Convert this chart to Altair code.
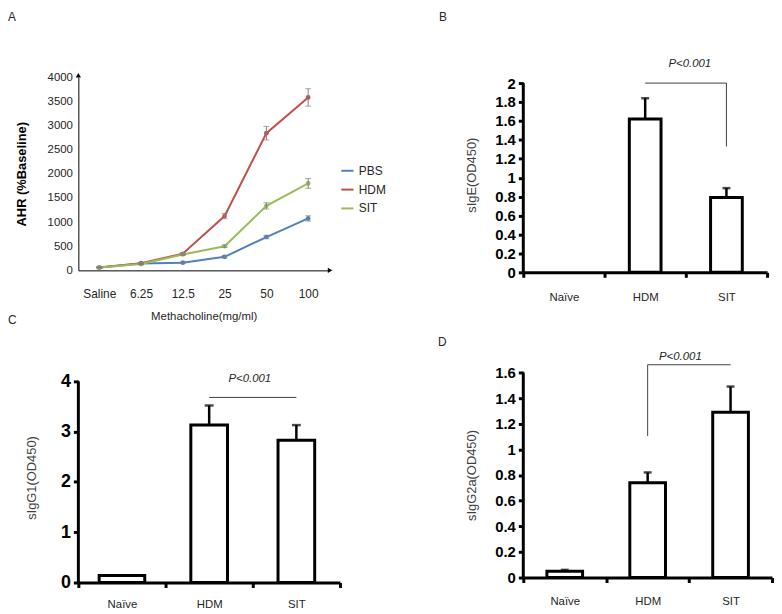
import altair as alt
import pandas as pd

# ---------------- data ----------------
doses = ["Saline", "6.25", "12.5", "25", "50", "100"]
groups_a = ["PBS", "HDM", "SIT"]
colors_a = ["#4f81bd", "#c0504d", "#9bbb59"]
pbs_mean = [60, 140, 160, 280, 690, 1075]
pbs_err = [10, 15, 15, 25, 35, 55]
hdm_mean = [60, 150, 345, 1125, 2840, 3580]
hdm_err = [10, 15, 20, 55, 140, 180]
sit_mean = [60, 130, 330, 500, 1335, 1800]
sit_err = [10, 15, 20, 25, 65, 100]

groups = ["Naïve", "HDM", "SIT"]
ige_mean = [0.0, 1.62, 0.79]
ige_err = [0.0, 0.22, 0.10]
igg1_mean = [0.14, 3.13, 2.83]
igg1_err = [0.0, 0.39, 0.30]
igg2a_mean = [0.05, 0.74, 1.29]
igg2a_err = [0.01, 0.08, 0.20]

p_label = "P<0.001"
bracket_b_x = ["HDM", "SIT", "SIT"]
bracket_b_y = [2.0, 2.0, 1.33]
bracket_c_x = ["HDM", "SIT"]
bracket_c_y = [3.68, 3.68]
bracket_d_x = ["HDM", "HDM", "SIT"]
bracket_d_y = [1.105, 1.66, 1.66]

FONT = "Liberation Sans, Arial, sans-serif"
NARROW = "Liberation Sans Narrow, Arial Narrow, Liberation Sans, sans-serif"
TXT = "#262626"


def letter(ch, x, y):
    return alt.Chart(pd.DataFrame({"t": [ch]})).mark_text(
        align="left", baseline="top", fontSize=12, font=FONT, color=TXT
    ).encode(x=alt.value(x), y=alt.value(y), text="t:N")


# ---------------- panel A ----------------
rows = []
for g, m, e in zip(groups_a, [pbs_mean, hdm_mean, sit_mean], [pbs_err, hdm_err, sit_err]):
    for i, (d, mv, ev) in enumerate(zip(doses, m, e)):
        rows.append({"dose": d, "group": g, "mean": mv, "lo": mv - ev, "hi": mv + ev, "i": i})
df_a = pd.DataFrame(rows)

W_A, H_A = 253, 195
xA = alt.X("dose:N", sort=doses, scale=alt.Scale(type="point", padding=0.5),
           axis=alt.Axis(title="Methacholine(mg/ml)", labelAngle=0, ticks=False, domainColor="black",
                         labelPadding=18, titlePadding=12, labelFontSize=12, titleFontSize=11.5,
                         titleFontWeight="normal", labelColor=TXT, titleColor=TXT,
                         labelFont=FONT, titleFont=FONT))


def yA(field):
    return alt.Y(field, scale=alt.Scale(domain=[0, 4000]),
                 axis=alt.Axis(title="AHR (%Baseline)", values=list(range(0, 4001, 500)), format="d",
                               grid=False, ticks=False, domainColor="black", labelPadding=6,
                               titlePadding=19, titleFontWeight="bold", titleFontSize=13,
                               labelFontSize=11.5, labelColor=TXT, titleColor="black",
                               labelFont=FONT, titleFont=FONT))


colA = alt.Color("group:N", scale=alt.Scale(domain=groups_a, range=colors_a),
                 legend=alt.Legend(title=None, orient="none", legendX=264, legendY=87,
                                   symbolType="stroke", symbolStrokeWidth=2, symbolSize=150,
                                   labelFontSize=12, labelFont=FONT, labelColor=TXT, rowPadding=5))

base_a = alt.Chart(df_a)
lines = base_a.mark_line(strokeWidth=2).encode(x=xA, y=yA("mean:Q"), color=colA, order="i:Q")
pts = base_a.mark_point(filled=True, size=22, opacity=1).encode(x=xA, y=yA("mean:Q"), color=colA)
err_r = base_a.mark_rule(color="#7f7f7f", strokeWidth=1).encode(x=xA, y=yA("lo:Q"), y2="hi:Q")
err_t1 = base_a.mark_tick(color="#7f7f7f", size=6, thickness=1).encode(x=xA, y=yA("lo:Q"))
err_t2 = base_a.mark_tick(color="#7f7f7f", size=6, thickness=1).encode(x=xA, y=yA("hi:Q"))
one = pd.DataFrame({"k": [0]})
arrow_up = alt.Chart(one).mark_point(shape="triangle-up", filled=True, size=28, color="black", opacity=1).encode(
    x=alt.value(0), y=alt.value(-2))
arrow_rt = alt.Chart(one).mark_point(shape="triangle-right", filled=True, size=28, color="black", opacity=1).encode(
    x=alt.value(W_A + 1), y=alt.value(H_A))

panel_a = alt.layer(lines, pts, err_r, err_t1, err_t2, arrow_up, arrow_rt, letter("A", -71, -66)).properties(
    width=W_A, height=H_A)


# ---------------- bar panels ----------------
def bar_panel(means, errs, W, H, dom, ticks, axis_top, title, lab_size, bar_size, naive_size,
              bx, by, p_y, p_dx, let, let_xy, cap, lab_pad, title_pad):
    df = pd.DataFrame({"group": groups, "mean": means, "hi": [m + e for m, e in zip(means, errs)],
                       "err": errs})
    xs = alt.X("group:N", sort=groups, scale=alt.Scale(domain=groups, paddingInner=0, paddingOuter=0),
               axis=alt.Axis(title=None, labelAngle=0, tickBand="extent", tickSize=5, tickWidth=3,
                             tickColor="black", domainWidth=3, domainColor="black", labelFontSize=11.5,
                             labelFont=NARROW, labelColor=TXT, labelPadding=lab_pad))

    def ys(field):
        return alt.Y(field, scale=alt.Scale(domain=dom),
                     axis=alt.Axis(title=title, values=ticks, format="~g", grid=False, domain=False,
                                   tickSize=5, tickWidth=3, tickColor="black", labelFont=NARROW,
                                   labelFontWeight="bold", labelFontSize=lab_size, labelColor="black",
                                   labelPadding=3, titleFont=FONT, titleFontSize=13,
                                   titleFontWeight="normal", titleColor="#404040",
                                   titlePadding=title_pad))

    base = alt.Chart(df)
    bars = base.transform_filter("datum.group != 'Naïve'").mark_bar(
        size=bar_size, fill="white", stroke="black", strokeWidth=3).encode(x=xs, y=ys("mean:Q"))
    bar_n = base.transform_filter("datum.group == 'Naïve' && datum.mean > 0").mark_bar(
        size=naive_size, fill="white", stroke="black", strokeWidth=3).encode(x=xs, y=ys("mean:Q"))
    er = base.transform_filter("datum.err > 0").mark_rule(color="black", strokeWidth=2.5).encode(
        x=xs, y=ys("mean:Q"), y2="hi:Q")
    ec = base.transform_filter("datum.err > 0").mark_tick(color="black", size=cap, thickness=2.5).encode(
        x=xs, y=ys("hi:Q"))
    axis_line = alt.Chart(pd.DataFrame({"v0": [0], "v1": [axis_top]})).mark_rule(
        color="black", strokeWidth=3).encode(x=alt.value(0), y=ys("v0:Q"), y2="v1:Q")
    bdf = pd.DataFrame({"group": bx, "v": by, "i": list(range(len(bx)))})
    bracket = alt.Chart(bdf).mark_line(color="#404040", strokeWidth=1).encode(
        x=xs, y=ys("v:Q"), order="i:Q")
    pdf = pd.DataFrame({"group": ["HDM"], "v": [p_y], "t": [p_label]})
    ptxt = alt.Chart(pdf).mark_text(fontStyle="italic", fontSize=11.5, font=FONT, color=TXT, dx=p_dx).encode(
        x=xs, y=ys("v:Q"), text="t:N")
    return alt.layer(bars, bar_n, er, ec, axis_line, bracket, ptxt, letter(let, *let_xy)).properties(
        width=W, height=H)


panel_b = bar_panel(ige_mean, ige_err, 246, 197, [0, 2.063], [round(0.2 * k, 1) for k in range(11)], 2.0,
                    "sIgE(OD450)", 15, 32, 32, bracket_b_x, bracket_b_y, 2.2, 45, "B", (-85, -66), 8,
                    14, 16)
panel_c = bar_panel(igg1_mean, igg1_err, 264, 212, [0, 4.177], [0, 1, 2, 3, 4], 4,
                    "sIgG1(OD450)", 18, 37, 46, bracket_c_x, bracket_c_y, 4.04, 41, "C", (-71, -58), 9,
                    11, 22)
panel_d = bar_panel(igg2a_mean, igg2a_err, 251, 207, [0, 1.6], [round(0.2 * k, 1) for k in range(9)], 1.6,
                    "sIgG2a(OD450)", 15, 36, 36, bracket_d_x, bracket_d_y, 1.72, 33, "D", (-86, -36), 8,
                    13, 16)

chart = alt.concat(panel_a, panel_b, panel_c, panel_d, columns=2,
                   spacing={"row": -9, "column": 97}).properties(padding=0).configure_view(stroke=None)

chart.save("out.html", embed_options={"renderer": "svg", "actions": False})
